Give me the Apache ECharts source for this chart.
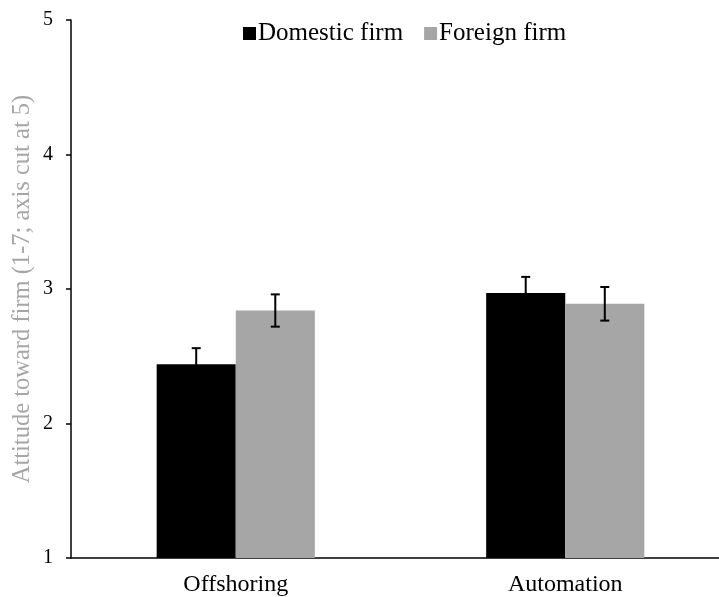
<!DOCTYPE html>
<html>
<head>
<meta charset="utf-8">
<script src="https://cdn.jsdelivr.net/npm/echarts@6/dist/echarts.min.js"></script>
<style>
  html, body { margin: 0; padding: 0; background: #fff; }
  #chart { width: 719px; height: 597px; }
</style>
</head>
<body>
<div id="chart"></div>
<script>
// Attitude toward firm by framing condition, with standard-error bars
const categories = ['Offshoring', 'Automation'];
const seriesNames = ['Domestic firm', 'Foreign firm'];
const domesticMeans = [2.44, 2.97];
const foreignMeans = [2.84, 2.89];
const domesticErr = [0.12, 0.12];
const foreignErr = [0.12, 0.125];
const yTicks = [1, 2, 3, 4, 5];

const FONT = '"Liberation Serif", "Times New Roman", serif';
const colors = ['#000000', '#a6a6a6'];
const GAP = 0.52; // barCategoryGap fraction

function errorSeries(means, errs, sideSign) {
  return {
    type: 'custom',
    z: 10,
    silent: true,
    data: categories.map((c, i) => [i, means[i] - errs[i], means[i] + errs[i]]),
    renderItem: function (params, api) {
      const catW = api.size([1, 0])[0];
      const barW = catW * (1 - GAP) / 2;
      const lo = api.coord([api.value(0), api.value(1)]);
      const hi = api.coord([api.value(0), api.value(2)]);
      const x = lo[0] + sideSign * barW / 2;
      const cap = 4.5;
      const style = { stroke: '#000', lineWidth: 2 };
      return {
        type: 'group',
        children: [
          { type: 'line', shape: { x1: x, y1: lo[1], x2: x, y2: hi[1] }, style },
          { type: 'line', shape: { x1: x - cap, y1: hi[1], x2: x + cap, y2: hi[1] }, style },
          { type: 'line', shape: { x1: x - cap, y1: lo[1], x2: x + cap, y2: lo[1] }, style }
        ]
      };
    }
  };
}

const chart = echarts.init(document.getElementById('chart'));
chart.setOption({
  animation: false,
  backgroundColor: '#fff',
  textStyle: { fontFamily: FONT },
  legend: {
    top: 16,
    left: 238,
    itemWidth: 13,
    itemHeight: 13,
    itemGap: 21,
    icon: 'rect',
    textStyle: { fontFamily: FONT, fontSize: 25, color: '#000', padding: [0, 0, 0, -3] },
    data: seriesNames
  },
  grid: { left: 71, right: -11, top: 20, bottom: 39, containLabel: false, outerBoundsMode: 'none' },
  xAxis: {
    type: 'category',
    data: categories,
    axisLine: { lineStyle: { color: '#000', width: 1.5 } },
    axisTick: { show: false },
    axisLabel: { color: '#000', fontFamily: FONT, fontSize: 24, margin: 15 }
  },
  yAxis: {
    type: 'value',
    min: yTicks[0],
    max: yTicks[yTicks.length - 1],
    interval: 1,
    name: 'Attitude toward firm (1-7; axis cut at 5)',
    nameLocation: 'middle',
    nameGap: 36,
    nameMoveOverlap: false,
    nameTextStyle: { color: '#a6a6a6', fontFamily: FONT, fontSize: 24.5 },
    axisLine: { show: true, lineStyle: { color: '#000', width: 1.5 } },
    axisTick: { show: true, length: 5, lineStyle: { color: '#000', width: 1.5 } },
    axisLabel: { color: '#000', fontFamily: FONT, fontSize: 20, margin: 18 },
    splitLine: { show: false }
  },
  series: [
    {
      name: seriesNames[0],
      type: 'bar',
      data: domesticMeans,
      itemStyle: { color: colors[0] },
      barGap: '0%',
      barCategoryGap: (GAP * 100) + '%'
    },
    {
      name: seriesNames[1],
      type: 'bar',
      data: foreignMeans,
      itemStyle: { color: colors[1] },
      barGap: '0%',
      barCategoryGap: (GAP * 100) + '%'
    },
    errorSeries(domesticMeans, domesticErr, -1),
    errorSeries(foreignMeans, foreignErr, 1)
  ]
});
</script>
</body>
</html>
